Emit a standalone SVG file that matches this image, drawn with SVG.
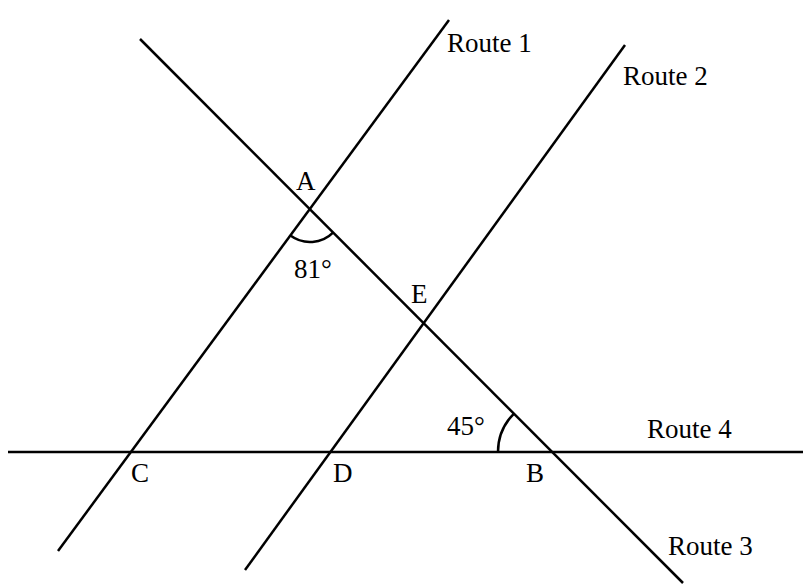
<svg xmlns="http://www.w3.org/2000/svg" width="803" height="586" viewBox="0 0 803 586">
<style>
.ln{stroke:#000;stroke-width:2.5;fill:none;stroke-linecap:butt}
.arc{stroke:#000;stroke-width:2.5;fill:none}
.lb{font-family:"Liberation Serif","Times New Roman",serif;font-size:27px;fill:#000}
</style>
<rect width="803" height="586" fill="#fff"/>
<g id="connectors">
<line id="route1" class="ln" x1="449" y1="20" x2="58" y2="551"/>
<line id="route2" class="ln" x1="625" y1="45" x2="245" y2="570"/>
<line id="route3" class="ln" x1="140" y1="39" x2="683" y2="583"/>
<line id="route4" class="ln" x1="8" y1="452" x2="803" y2="452"/>
</g>
<g id="angleA">
<path class="arc" d="M290.4,235.6 A33,33 0 0 0 333.3,232.3"/>
<text class="lb" x="294" y="278">81°</text>
</g>
<g id="angleB">
<path class="arc" d="M498,452 A54,54 0 0 1 513.8,413.8"/>
<text class="lb" x="447" y="435">45°</text>
</g>
<g id="pointA"><text class="lb" x="296" y="190">A</text></g>
<g id="pointE"><text class="lb" x="411" y="303">E</text></g>
<g id="pointB"><text class="lb" x="526" y="482">B</text></g>
<g id="pointC"><text class="lb" x="131" y="482">C</text></g>
<g id="pointD"><text class="lb" x="333" y="482">D</text></g>
<g id="label-route1"><text class="lb" x="447" y="52">Route 1</text></g>
<g id="label-route2"><text class="lb" x="623" y="85">Route 2</text></g>
<g id="label-route3"><text class="lb" x="668" y="555">Route 3</text></g>
<g id="label-route4"><text class="lb" x="647" y="438">Route 4</text></g>
</svg>
